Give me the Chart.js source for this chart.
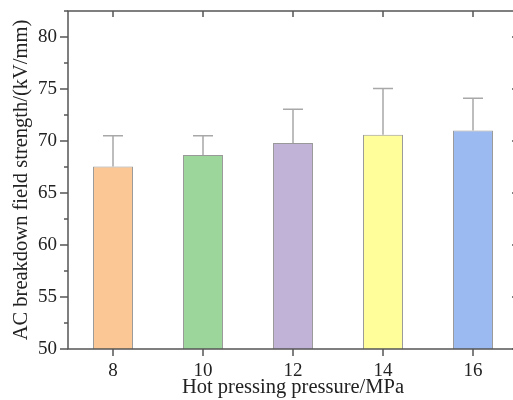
<!DOCTYPE html>
<html>
<head>
<meta charset="utf-8">
<script src="https://cdn.jsdelivr.net/npm/chart.js@4/dist/chart.umd.min.js"></script>
<style>
  html, body { margin: 0; padding: 0; background: #fff; overflow: hidden; width: 513px; height: 400px; }
  canvas { display: block; }
</style>
</head>
<body>
<canvas id="chart" width="520" height="400"></canvas>
<script>
const pressures = ["8", "10", "12", "14", "16"];
const strengthMean = [67.55, 68.65, 69.8, 70.6, 71.0];
const strengthErr = [2.95, 1.85, 3.25, 4.45, 3.1];
const barColors = ["#FBC794", "#9DD69B", "#C1B2D7", "#FFFE9A", "#9BBAF1"];
const yTicks = [50, 55, 60, 65, 70, 75, 80];
const yMinorTicks = [52.5, 57.5, 62.5, 67.5, 72.5, 77.5, 82.5];

const axisColor = "#555";
const fontFamily = "'Liberation Serif', 'DejaVu Serif', serif";

// error bars (upper only), drawn on top of the bars
const errorBars = {
  id: "errorBars",
  afterDatasetsDraw(chart) {
    const ctx = chart.ctx;
    const yScale = chart.scales.y;
    const meta = chart.getDatasetMeta(0);
    ctx.save();
    ctx.strokeStyle = "#a8a8a8";
    ctx.lineWidth = 1.5;
    meta.data.forEach(function(bar, i) {
      const yTop = yScale.getPixelForValue(strengthMean[i] + strengthErr[i]);
      ctx.beginPath();
      ctx.moveTo(bar.x, bar.y);
      ctx.lineTo(bar.x, yTop);
      ctx.moveTo(bar.x - 10, yTop);
      ctx.lineTo(bar.x + 10, yTop);
      ctx.stroke();
    });
    ctx.restore();
  }
};

// box frame with ticks like the original plot
const frame = {
  id: "frame",
  afterDraw(chart) {
    const ctx = chart.ctx;
    const a = chart.chartArea;
    const x = chart.scales.x;
    const y = chart.scales.y;
    ctx.save();
    ctx.strokeStyle = axisColor;
    ctx.lineWidth = 1.5;
    ctx.strokeRect(a.left, a.top, a.right - a.left, a.bottom - a.top);
    ctx.beginPath();
    yTicks.forEach(function(v) {
      const py = y.getPixelForValue(v);
      ctx.moveTo(a.left - 8, py);
      ctx.lineTo(a.left, py);
      ctx.moveTo(a.right - 6, py);
      ctx.lineTo(a.right, py);
    });
    yMinorTicks.forEach(function(v) {
      const py = y.getPixelForValue(v);
      ctx.moveTo(a.left - 4, py);
      ctx.lineTo(a.left, py);
    });
    pressures.forEach(function(p, i) {
      const px = x.getPixelForValue(i);
      ctx.moveTo(px, a.bottom);
      ctx.lineTo(px, a.bottom + 7);
      ctx.moveTo(px, a.top);
      ctx.lineTo(px, a.top + 6);
    });
    ctx.stroke();
    ctx.restore();
  }
};

new Chart(document.getElementById("chart"), {
  type: "bar",
  data: {
    labels: pressures,
    datasets: [{
      data: strengthMean,
      backgroundColor: barColors,
      borderColor: "#999",
      borderWidth: 1,
      barPercentage: 0.444,
      categoryPercentage: 1.0
    }]
  },
  options: {
    responsive: false,
    animation: false,
    layout: { padding: { top: 11, right: 2, left: 0, bottom: 0 } },
    plugins: {
      legend: { display: false },
      tooltip: { enabled: false }
    },
    scales: {
      x: {
        grid: { display: false, drawTicks: false },
        border: { display: false },
        ticks: { color: "#222", padding: 11, font: { family: fontFamily, size: 19 } },
        title: {
          display: true,
          text: "Hot pressing pressure/MPa",
          color: "#222",
          padding: { top: 0, bottom: 0 },
          font: { family: fontFamily, size: 20.5 }
        },
        afterFit(scale) { scale.height = 51; scale.paddingLeft = 0; scale.paddingRight = 0; }
      },
      y: {
        min: 50,
        max: 82.5,
        grid: { display: false, drawTicks: false },
        border: { display: false },
        afterBuildTicks(scale) { scale.ticks = yTicks.map(function(v) { return { value: v }; }); },
        ticks: { color: "#222", padding: 11, font: { family: fontFamily, size: 19 } },
        title: {
          display: true,
          text: "AC breakdown field strength/(kV/mm)",
          color: "#222",
          padding: { top: 9, bottom: 0 },
          font: { family: fontFamily, size: 20.5 }
        },
        afterFit(scale) { scale.width = 68; scale.paddingTop = 0; scale.paddingBottom = 0; }
      }
    }
  },
  plugins: [errorBars, frame]
});
</script>
</body>
</html>
